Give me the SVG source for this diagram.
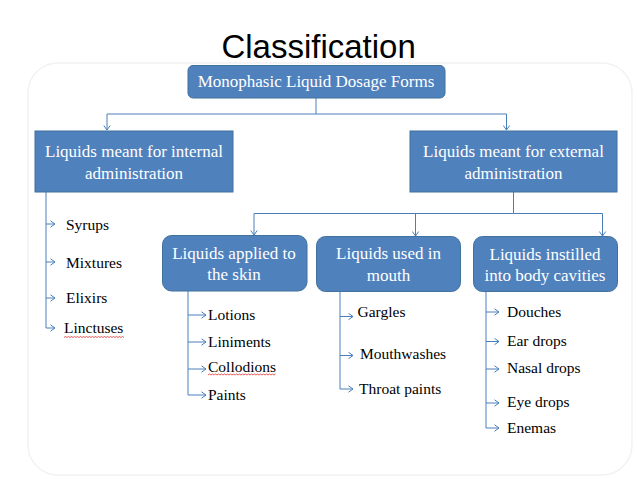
<svg xmlns="http://www.w3.org/2000/svg" width="638" height="479" viewBox="0 0 638 479">
<style>
.box{fill:#4f81bd;stroke:#41719c;stroke-width:1}
.bt{font-family:"Liberation Serif","Times New Roman",serif;font-size:17px;fill:#fff;text-anchor:middle}
.it{font-family:"Liberation Serif","Times New Roman",serif;font-size:15.5px;fill:#000}
.c{fill:none;stroke:#4a7ebb;stroke-width:1}
.sq{fill:none;stroke:#e03030;stroke-width:0.8}
</style>
<defs>
<marker id="ah" markerUnits="userSpaceOnUse" markerWidth="8" markerHeight="8" refX="5" refY="4" orient="auto">
<path d="M0.5,0.8 L5,4 L0.5,7.2" fill="none" stroke="#4a7ebb" stroke-width="1"/>
</marker>
</defs>
<rect width="638" height="479" fill="#fff"/>
<rect x="28" y="63" width="604" height="412" rx="30" fill="none" stroke="#f2f2f2" stroke-width="1.5"/>
<text x="318.6" y="58" font-family="'Liberation Sans',Arial,sans-serif" font-size="33" text-anchor="middle" fill="#000">Classification</text>

<g id="connectors">
<path class="c" d="M316,98 V114"/>
<path class="c" d="M316,114 H107 V130" marker-end="url(#ah)"/>
<path class="c" d="M316,114 H506.5 V130" marker-end="url(#ah)"/>
<path class="c" d="M513.5,192 V213.5"/>
<path class="c" d="M513.5,213.5 H254 V235" marker-end="url(#ah)"/>
<path class="c" d="M513.5,213.5 H602.5 V236" marker-end="url(#ah)"/>
<path class="c" d="M415.5,213.5 V236" marker-end="url(#ah)"/>
<!-- internal list -->
<path class="c" d="M46,192 V328 H55" marker-end="url(#ah)"/>
<path class="c" d="M46,224 H55" marker-end="url(#ah)"/>
<path class="c" d="M46,262 H55" marker-end="url(#ah)"/>
<path class="c" d="M46,298 H55" marker-end="url(#ah)"/>
<!-- skin list -->
<path class="c" d="M188,291 V395 H206" marker-end="url(#ah)"/>
<path class="c" d="M188,315 H206" marker-end="url(#ah)"/>
<path class="c" d="M188,342 H206" marker-end="url(#ah)"/>
<path class="c" d="M188,369 H206" marker-end="url(#ah)"/>
<!-- mouth list -->
<path class="c" d="M340,292 V389 H353" marker-end="url(#ah)"/>
<path class="c" d="M340,316.5 H353" marker-end="url(#ah)"/>
<path class="c" d="M340,355.5 H353" marker-end="url(#ah)"/>
<!-- cavities list -->
<path class="c" d="M486,292 V428 H499" marker-end="url(#ah)"/>
<path class="c" d="M486,312 H499" marker-end="url(#ah)"/>
<path class="c" d="M486,341.5 H499" marker-end="url(#ah)"/>
<path class="c" d="M486,369 H499" marker-end="url(#ah)"/>
<path class="c" d="M486,403 H499" marker-end="url(#ah)"/>
</g>

<g id="root">
<rect class="box" x="188" y="65.5" width="257" height="32.5" rx="5"/>
<text class="bt" x="316" y="87">Monophasic Liquid Dosage Forms</text>
</g>
<g id="internal">
<rect class="box" x="35" y="131" width="198" height="61"/>
<text class="bt" x="134" y="157">Liquids meant for internal</text>
<text class="bt" x="134" y="178.5">administration</text>
</g>
<g id="external">
<rect class="box" x="410" y="131" width="207" height="61"/>
<text class="bt" x="513.5" y="157">Liquids meant for external</text>
<text class="bt" x="513.5" y="178.5">administration</text>
</g>
<g id="skin">
<rect class="box" x="162.5" y="235.5" width="144.5" height="55.5" rx="9"/>
<text class="bt" x="234" y="258.5">Liquids applied to</text>
<text class="bt" x="234" y="280">the skin</text>
</g>
<g id="mouth">
<rect class="box" x="316.5" y="236.5" width="144" height="55" rx="9"/>
<text class="bt" x="388.5" y="259">Liquids used in</text>
<text class="bt" x="388.5" y="280.5">mouth</text>
</g>
<g id="cavities">
<rect class="box" x="473.5" y="236.5" width="144" height="55" rx="9"/>
<text class="bt" x="545" y="259.5">Liquids instilled</text>
<text class="bt" x="545" y="281">into body cavities</text>
</g>

<g id="internal-items">
<text class="it" x="66" y="230">Syrups</text>
<text class="it" x="66" y="267.5">Mixtures</text>
<text class="it" x="66" y="303">Elixirs</text>
<text class="it" x="64" y="333">Linctuses</text>
<path class="sq" d="M64,337.5 l1.5,-1 l1.5,1 l1.5,-1 l1.5,1 l1.5,-1 l1.5,1 l1.5,-1 l1.5,1 l1.5,-1 l1.5,1 l1.5,-1 l1.5,1 l1.5,-1 l1.5,1 l1.5,-1 l1.5,1 l1.5,-1 l1.5,1 l1.5,-1 l1.5,1 l1.5,-1 l1.5,1 l1.5,-1 l1.5,1 l1.5,-1 l1.5,1 l1.5,-1 l1.5,1 l1.5,-1 l1.5,1 l1.5,-1 l1.5,1 l1.5,-1 l1.5,1 l1.5,-1 l1.5,1 l1.5,-1 l1.5,1 l1.5,-1 l1.5,1"/>
</g>
<g id="skin-items">
<text class="it" x="208" y="319.5">Lotions</text>
<text class="it" x="208" y="346.5">Liniments</text>
<text class="it" x="208" y="371.5">Collodions</text>
<path class="sq" d="M208,375 l1.5,-1 l1.5,1 l1.5,-1 l1.5,1 l1.5,-1 l1.5,1 l1.5,-1 l1.5,1 l1.5,-1 l1.5,1 l1.5,-1 l1.5,1 l1.5,-1 l1.5,1 l1.5,-1 l1.5,1 l1.5,-1 l1.5,1 l1.5,-1 l1.5,1 l1.5,-1 l1.5,1 l1.5,-1 l1.5,1 l1.5,-1 l1.5,1 l1.5,-1 l1.5,1 l1.5,-1 l1.5,1 l1.5,-1 l1.5,1 l1.5,-1 l1.5,1 l1.5,-1 l1.5,1 l1.5,-1 l1.5,1 l1.5,-1 l1.5,1 l1.5,-1 l1.5,1 l1.5,-1 l1.5,1 l1.5,-1"/>
<text class="it" x="208" y="400">Paints</text>
</g>
<g id="mouth-items">
<text class="it" x="357.5" y="317">Gargles</text>
<text class="it" x="360" y="358.5">Mouthwashes</text>
<text class="it" x="359" y="393.5">Throat paints</text>
</g>
<g id="cavities-items">
<text class="it" x="507" y="317">Douches</text>
<text class="it" x="507" y="345.5">Ear drops</text>
<text class="it" x="507" y="373">Nasal drops</text>
<text class="it" x="507" y="407">Eye drops</text>
<text class="it" x="507" y="433">Enemas</text>
</g>
</svg>
